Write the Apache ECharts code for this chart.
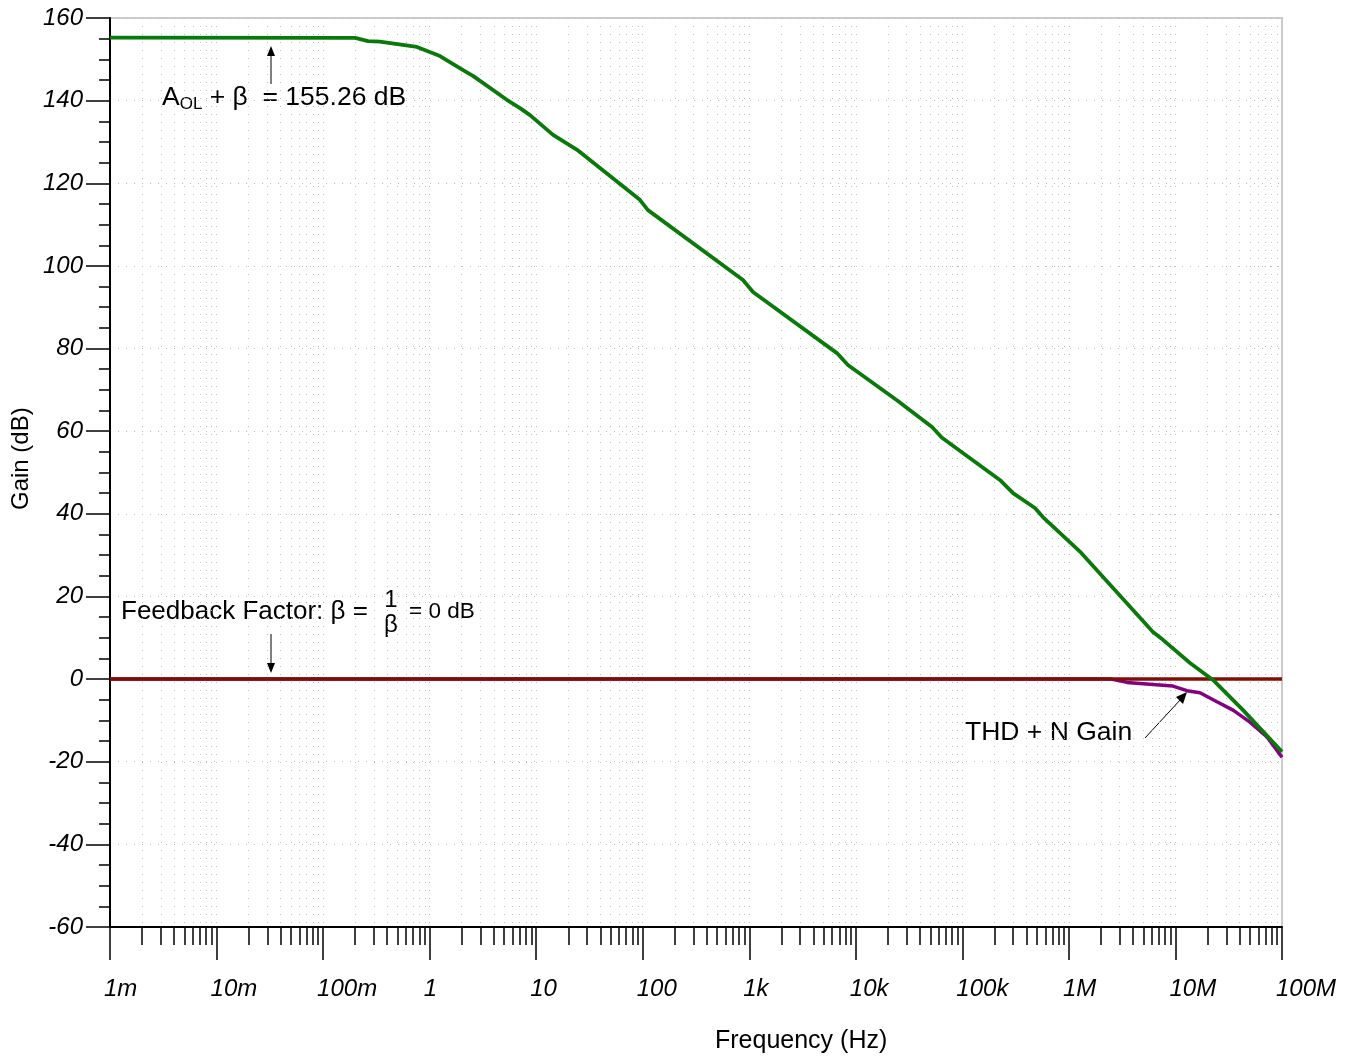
<!DOCTYPE html>
<html>
<head>
<meta charset="utf-8">
<script src="https://cdn.jsdelivr.net/npm/echarts@6/dist/echarts.min.js"></script>
<style>
    html, body { margin: 0; padding: 0; background: #fff; }
    #mychart { width: 1355px; height: 1059px; }
</style>
</head>
<body>
<div id="mychart"></div>
<script>
// open loop gain + beta (green)
const aolFreq = [0.001, 0.2, 0.264, 0.34, 0.76, 1.25, 2.06, 2.55, 5.3, 7.05, 8.75, 14.4, 24.2, 94, 112,
    873, 1084, 6650, 8430, 24300, 51900, 64400, 225000, 299000, 480000, 570000, 1300000,
    6150000, 7640000, 13700000, 22500000, 43100000, 100000000];
const aolGain = [155.26, 155.2, 154.4, 154.3, 153.0, 150.8, 147.4, 146.0, 140.2, 138.2, 136.5, 131.7, 128.1, 116.0, 113.5,
    96.6, 93.7, 78.9, 76.0, 67.5, 61.0, 58.4, 48.2, 45.0, 41.4, 39.2, 30.6,
    11.4, 9.5, 3.9, -0.2, -7.5, -17.6];
// THD + N gain (purple)
const thdFreq = [0.001, 2500000, 3510000, 6150000, 9480000, 12800000, 17000000, 24500000, 34700000, 50000000, 72300000, 100000000];
const thdGain = [0, 0, -0.8, -1.3, -1.7, -2.8, -3.3, -5.5, -7.5, -10.4, -14.0, -18.9];
// feedback factor (dark red)
const betaFreq = [0.001, 100000000];
const betaGain = [0, 0];

const decadeTicks = [0.001, 0.01, 0.1, 1, 10, 100, 1000, 10000, 100000, 1000000, 10000000, 100000000];
const decadeLabels = ['1m', '10m', '100m', '1', '10', '100', '1k', '10k', '100k', '1M', '10M', '100M'];
const minorTicks = [];
decadeTicks.slice(0, -1).forEach(d => {
    for (let k = 2; k <= 9; k++) minorTicks.push(+(d * k).toPrecision(6));
});

const pairs = (xs, ys) => xs.map((x, i) => [x, ys[i]]);
const font = '"Liberation Sans", Arial, sans-serif';
const gridDots = { color: '#bdbdbd', width: 1, type: [1, 7] };

let myChart = echarts.init(document.getElementById('mychart'));
let option = {
    animation: false,
    grid: {
        left: 110, right: 73, top: 18, bottom: 132,
        show: true, borderColor: '#cccccc', borderWidth: 2
    },
    xAxis: [{
        type: 'log',
        logBase: 10,
        min: 0.001,
        max: 100000000,
        axisLine: { onZero: false, lineStyle: { color: '#000', width: 2 } },
        axisTick: { customValues: decadeTicks, length: 33, lineStyle: { color: '#000', width: 1.5 } },
        axisLabel: {
            customValues: decadeTicks,
            formatter: v => decadeLabels[Math.round(Math.log10(v)) + 3],
            fontFamily: font, fontSize: 24, fontStyle: 'italic', color: '#000',
            align: 'left', padding: [0, 0, 0, -6], margin: 50
        },
        splitLine: { show: true, lineStyle: gridDots }
    }, {
        type: 'log',
        logBase: 10,
        min: 0.001,
        max: 100000000,
        position: 'bottom',
        axisLine: { show: false, onZero: false },
        axisTick: { customValues: minorTicks, length: 18, lineStyle: { color: '#000', width: 1.5 } },
        axisLabel: { show: false },
        splitLine: { show: true, lineStyle: gridDots }
    }],
    yAxis: {
        type: 'value',
        min: -60,
        max: 160,
        interval: 20,
        axisLine: { show: true, lineStyle: { color: '#000', width: 2 } },
        axisTick: { show: true, length: 24, lineStyle: { color: '#000', width: 1.5 } },
        minorTick: { show: true, splitNumber: 4, length: 11, lineStyle: { color: '#000', width: 1.5 } },
        axisLabel: { fontFamily: font, fontSize: 24, fontStyle: 'italic', color: '#000', margin: 27 },
        splitLine: { show: true, lineStyle: gridDots }
    },
    graphic: [
        { type: 'text', left: 715, top: 1029, style: { text: 'Frequency (Hz)', font: '25px ' + font, fill: '#000' } },
        { type: 'text', x: 9, y: 510, rotation: Math.PI / 2,
          style: { text: 'Gain (dB)', font: '24px ' + font, fill: '#000' } },
        // A_OL + beta annotation
        { type: 'text', x: 162, y: 98, style: {
            text: '{m|A}{s|OL}{m| + β  = 155.26 dB}',
            verticalAlign: 'middle', fill: '#000',
            rich: {
                m: { font: '26.5px ' + font, fill: '#000' },
                s: { font: '17px ' + font, fill: '#000', padding: [12, 0, 0, 0] }
            }
        } },
        { type: 'line', shape: { x1: 271, y1: 84, x2: 271, y2: 55 }, style: { stroke: '#000', lineWidth: 1 } },
        { type: 'polygon', shape: { points: [[271, 46], [267, 56], [275, 56]] }, style: { fill: '#000' } },
        // feedback factor annotation
        { type: 'text', x: 121, y: 612, style: { text: 'Feedback Factor: β =', font: '26px ' + font, fill: '#000', verticalAlign: 'middle' } },
        { type: 'text', x: 391, y: 600, style: { text: '1', font: '24px ' + font, fill: '#000', align: 'center', verticalAlign: 'middle' } },
        { type: 'text', x: 391, y: 625, style: { text: 'β', font: '24px ' + font, fill: '#000', align: 'center', verticalAlign: 'middle' } },
        { type: 'text', x: 409, y: 612, style: { text: '= 0 dB', font: '22.5px ' + font, fill: '#000', verticalAlign: 'middle' } },
        { type: 'line', shape: { x1: 271, y1: 634, x2: 271, y2: 664 }, style: { stroke: '#000', lineWidth: 1 } },
        { type: 'polygon', shape: { points: [[271, 673], [267, 663], [275, 663]] }, style: { fill: '#000' } },
        // THD + N annotation
        { type: 'text', x: 965, y: 733, style: { text: 'THD + N Gain', font: '26.5px ' + font, fill: '#000', verticalAlign: 'middle' } },
        { type: 'line', shape: { x1: 1145, y1: 738, x2: 1181, y2: 699 }, style: { stroke: '#000', lineWidth: 1 } },
        { type: 'polygon', shape: { points: [[1187, 692], [1176, 697], [1183, 704]] }, style: { fill: '#000' } }
    ],
    series: [{
        name: 'THD + N Gain',
        type: 'line',
        symbol: 'none',
        z: 2,
        data: pairs(thdFreq, thdGain),
        lineStyle: { color: '#800080', width: 3.5 }
    }, {
        name: 'Feedback Factor',
        type: 'line',
        symbol: 'none',
        z: 3,
        data: pairs(betaFreq, betaGain),
        lineStyle: { color: '#7f0f05', width: 3.5 }
    }, {
        name: 'AOL + beta',
        type: 'line',
        symbol: 'none',
        z: 4,
        data: pairs(aolFreq, aolGain),
        lineStyle: { color: '#0a780a', width: 3.8 }
    }]
};
myChart.setOption(option);
</script>
</body>
</html>
